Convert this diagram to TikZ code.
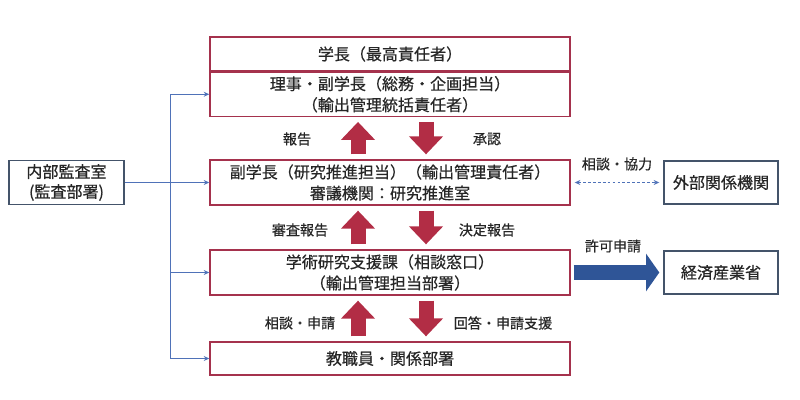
\documentclass[tikz,border=0pt]{standalone}
\usepackage{fontspec}
\setmainfont{Noto Sans CJK JP}[FakeBold=0.6]
\usetikzlibrary{arrows.meta}
\definecolor{boxred}{HTML}{A5324D}
\definecolor{arrowred}{HTML}{B22D45}
\definecolor{linkblue}{HTML}{4F72B8}
\definecolor{boxslate}{HTML}{44546A}
\definecolor{permitblue}{HTML}{2F5597}

\begin{document}
\begin{tikzpicture}[x=0.025cm,y=-0.025cm,
  org box/.style={draw=boxred,line width=0.9pt,minimum width=9cm,inner sep=1pt,align=center,
    font=\fontsize{11.4}{15}\selectfont,text=black!85},
  side box/.style={draw=boxslate,line width=1pt,inner sep=1pt,align=center,
    font=\fontsize{11.4}{14.2}\selectfont,text=black!85},
  flow label/.style={font=\fontsize{10}{12}\selectfont,text=black!85},
  report arrow/.style={arrowred,line width=0.375cm,-{Triangle[width=0.825cm,length=0.45cm]},
    shorten <=0.125cm,shorten >=0.125cm},
  link/.style={linkblue,line width=0.7pt,-{Stealth[length=4pt,width=3.5pt]}},
  ]
  \useasboundingbox (0,0) rectangle (800,400);

  % main chain
  \node[org box,minimum height=0.85cm] (head) at (390,54) {学長（最高責任者）};
  \node[org box,minimum height=1.1cm,anchor=north] (board) at (head.south)
    {理事・副学長（総務・企画担当）\\（輸出管理統括責任者）};
  \node[org box,minimum height=1.125cm] (vice) at (390,182.5)
    {副学長（研究推進担当）（輸出管理責任者）\\審議機関：研究推進室};
  \node[org box,minimum height=1.125cm] (support) at (390,272.5)
    {学術研究支援課（相談窓口）\\（輸出管理担当部署）};
  \node[org box,minimum height=0.825cm] (staff) at (390,358.5) {教職員・関係部署};

  % side boxes
  \node[side box,minimum width=2.875cm,minimum height=1.1cm] (audit) at (66.5,182.5)
    {内部監査室\\(監査部署)};
  \node[side box,minimum width=2.85cm,minimum height=1.075cm] (partner) at (721,182.5) {外部関係機関};
  \node[side box,minimum width=2.85cm,minimum height=1.075cm] (meti) at (721,272.5) {経済産業省};

  % audit lines
  \coordinate (bus) at (170,0);
  \draw[linkblue,line width=0.7pt] (board.west -| bus) -- (staff.west -| bus);
  \draw[link] (board.west -| bus) -- (board.west);
  \draw[link] (audit.east) -- (vice.west);
  \draw[link] (support.west -| bus) -- (support.west);
  \draw[link] (staff.west -| bus) -- (staff.west);

  % reports up and down
  \coordinate (up) at (358,0);
  \coordinate (down) at (426,0);
  \draw[report arrow] (vice.north -| up) -- (board.south -| up);
  \draw[report arrow] (board.south -| down) -- (vice.north -| down);
  \draw[report arrow] (support.north -| up) -- (vice.south -| up);
  \draw[report arrow] (vice.south -| down) -- (support.north -| down);
  \draw[report arrow] (staff.north -| up) -- (support.south -| up);
  \draw[report arrow] (support.south -| down) -- (staff.north -| down);

  \node[flow label] (l-report) at (297,139) {報告};
  \node[flow label] (l-approve) at (487,139) {承認};
  \node[flow label] (l-review) at (300,230) {審査報告};
  \node[flow label] (l-decision) at (487,230) {決定報告};
  \node[flow label] (l-consult) at (300,323) {相談・申請};
  \node[flow label] (l-answer) at (503,323) {回答・申請支援};

  % outside
  \draw[linkblue,line width=0.7pt,dash pattern=on 2pt off 1.5pt,
    {Stealth[length=4pt,width=3.5pt]}-{Stealth[length=4pt,width=3.5pt]},
    shorten <=0.1cm,shorten >=0.1cm] (vice.east) -- (partner.west);
  \node[flow label] (l-coop) at (617,164) {相談・協力};
  \draw[permitblue,line width=0.375cm,-{Triangle[width=0.925cm,length=0.33cm]},
    shorten <=0.075cm,shorten >=0.1cm] (support.east) -- (meti.west);
  \node[flow label] (l-permit) at (613,246) {許可申請};
\end{tikzpicture}
\end{document}
